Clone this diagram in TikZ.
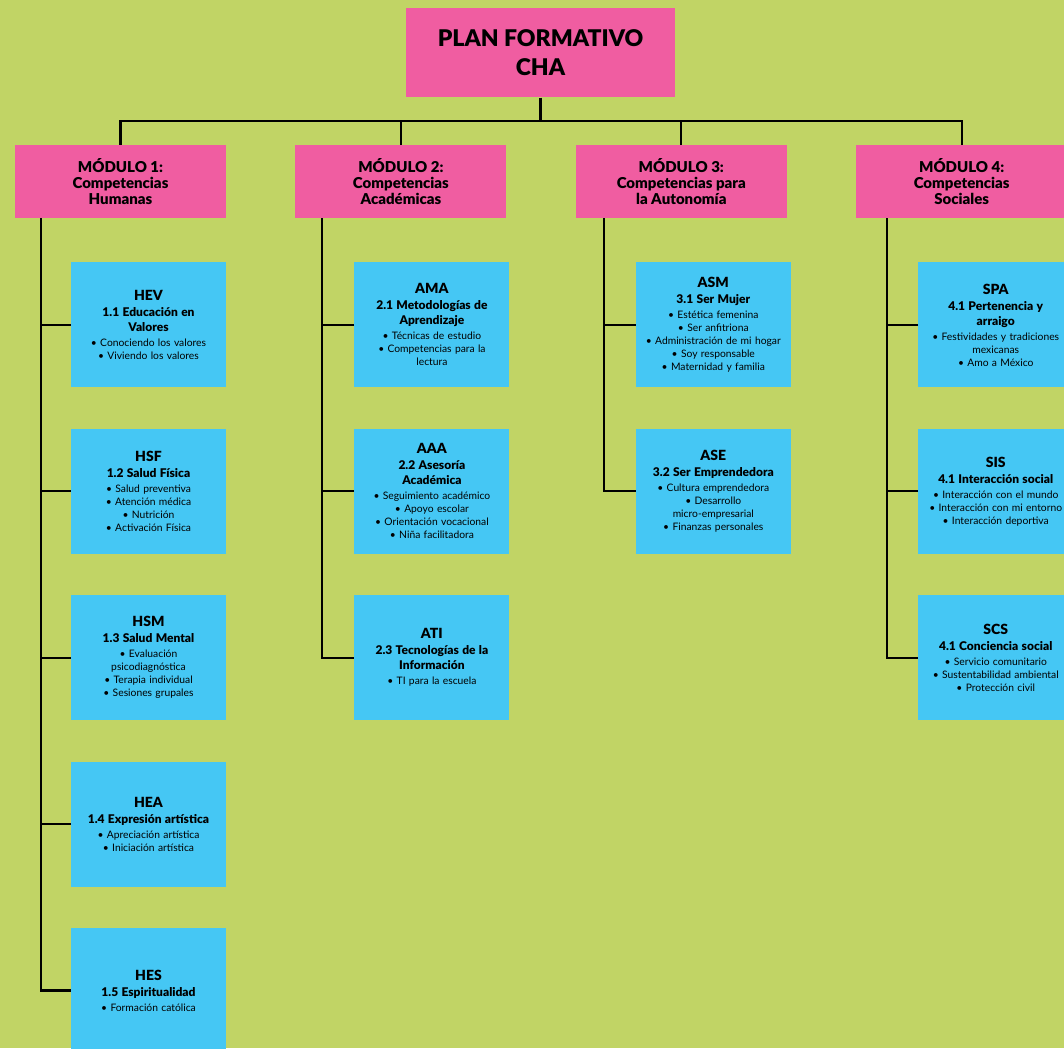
\documentclass[tikz,border=0pt]{standalone}
\usepackage{fontspec}
\setmainfont{Lato}[BoldFont={Lato Black}]
\usetikzlibrary{positioning,calc}

\definecolor{planGreen}{RGB}{193,212,101}
\definecolor{planPink}{RGB}{240,93,161}
\definecolor{planBlue}{RGB}{69,199,244}

\newcommand{\PlanCode}[1]{{\fontsize{14}{16}\selectfont\bfseries #1\par}\vspace{1pt}}
\newcommand{\PlanTitle}[1]{{\fontsize{12}{15}\selectfont\bfseries #1\par}\vspace{2pt}}
\newcommand{\PlanItems}[1]{{\fontsize{10.3}{13}\selectfont #1\par}}

\tikzset{
	titlebox/.style={fill=planPink, minimum width=269pt, minimum height=89pt, inner sep=0pt, align=center, font=\fontsize{23}{29}\selectfont\bfseries},
	modbox/.style={fill=planPink, minimum width=211pt, minimum height=73pt, inner sep=0pt, align=center, font=\fontsize{15}{16}\selectfont\bfseries},
	subbox/.style={fill=planBlue, minimum width=155pt, minimum height=125pt, inner sep=0pt, text width=152pt, align=center},
	link/.style={line width=2.2pt, black},
}

\begin{document}
\begin{tikzpicture}[x=1pt, y=-1pt]
		\fill[planGreen] (0,0) rectangle (1064,1048);
		\useasboundingbox (0,0) rectangle (1064,1048);

		\node[titlebox] (plan) at (540.5,53) {PLAN FORMATIVO\\CHA};
		\node[modbox] (m1) at (120.5,181.5) {MÓDULO 1:\\Competencias\\Humanas};
		\node[modbox, right=69pt of m1] (m2) {MÓDULO 2:\\Competencias\\Académicas};
		\node[modbox, right=69pt of m2] (m3) {MÓDULO 3:\\Competencias para\\la Autonomía};
		\node[modbox, right=69pt of m3] (m4) {MÓDULO 4:\\Competencias\\Sociales};

		% modulo 1
		\node[subbox, below right=44pt and 56pt of m1.south west] (hev) {\PlanCode{HEV}\PlanTitle{1.1 Educación en\\Valores}\PlanItems{• Conociendo los valores\\• Viviendo los valores}};
		\node[subbox, below=41pt of hev] (hsf) {\PlanCode{HSF}\PlanTitle{1.2 Salud Física}\PlanItems{• Salud preventiva\\• Atención médica\\• Nutrición\\• Activación Física}};
		\node[subbox, below=41pt of hsf] (hsm) {\PlanCode{HSM}\PlanTitle{1.3 Salud Mental}\PlanItems{• Evaluación\\psicodiagnóstica\\• Terapia individual\\• Sesiones grupales}};
		\node[subbox, below=41pt of hsm] (hea) {\PlanCode{HEA}\PlanTitle{1.4 Expresión artística}\PlanItems{• Apreciación artística\\• Iniciación artística}};
		\node[subbox, below=41pt of hea] (hes) {\PlanCode{HES}\PlanTitle{1.5 Espiritualidad}\PlanItems{• Formación católica}};

		% modulo 2
		\node[subbox, below right=44pt and 59pt of m2.south west] (ama) {\PlanCode{AMA}\PlanTitle{2.1 Metodologías de\\Aprendizaje}\PlanItems{• Técnicas de estudio\\• Competencias para la\\lectura}};
		\node[subbox, below=41pt of ama] (aaa) {\PlanCode{AAA}\PlanTitle{2.2 Asesoría\\Académica}\PlanItems{• Seguimiento académico\\• Apoyo escolar\\• Orientación vocacional\\• Niña facilitadora}};
		\node[subbox, below=41pt of aaa] (ati) {\PlanCode{ATI}\PlanTitle{2.3 Tecnologías de la\\Información}\PlanItems{• TI para la escuela}};

		% modulo 3
		\node[subbox, below right=44pt and 60pt of m3.south west] (asm) {\PlanCode{ASM}\PlanTitle{3.1 Ser Mujer}\PlanItems{• Estética femenina\\• Ser anfitriona\\• Administración de mi hogar\\• Soy responsable\\• Maternidad y familia}};
		\node[subbox, below=41pt of asm] (ase) {\PlanCode{ASE}\PlanTitle{3.2 Ser Emprendedora}\PlanItems{• Cultura emprendedora\\• Desarrollo\\micro-empresarial\\• Finanzas personales}};

		% modulo 4
		\node[subbox, below right=44pt and 62pt of m4.south west] (spa) {\PlanCode{SPA}\PlanTitle{4.1 Pertenencia y\\arraigo}\PlanItems{• Festividades y tradiciones\\mexicanas\\• Amo a México}};
		\node[subbox, below=41pt of spa] (sis) {\PlanCode{SIS}\PlanTitle{4.1 Interacción social}\PlanItems{• Interacción con el mundo\\• Interacción con mi entorno\\• Interacción deportiva}};
		\node[subbox, below=41pt of sis] (scs) {\PlanCode{SCS}\PlanTitle{4.1 Conciencia social}\PlanItems{• Servicio comunitario\\• Sustentabilidad ambiental\\• Protección civil}};

		% conectores
		\draw[link] (plan.south) -- ++(0,23.5) coordinate (bus);
		\foreach \m in {m1,m2,m3,m4}
			\draw[link] (\m.north) |- (bus);

		\coordinate (s1) at ($(m1.south west)+(26pt,0)$);
		\coordinate (s2) at ($(m2.south west)+(27pt,0)$);
		\coordinate (s3) at ($(m3.south west)+(28pt,0)$);
		\coordinate (s4) at ($(m4.south west)+(31pt,0)$);
		\draw[link] (s1) |- (hes.west);
		\draw[link] (s2) |- (ati.west);
		\draw[link] (s3) |- (ase.west);
		\draw[link] (s4) |- (scs.west);
		\foreach \b in {hev,hsf,hsm,hea}
			\draw[link] (\b.west) -- (\b.west -| s1);
		\foreach \b in {ama,aaa}
			\draw[link] (\b.west) -- (\b.west -| s2);
		\draw[link] (asm.west) -- (asm.west -| s3);
		\foreach \b in {spa,sis}
			\draw[link] (\b.west) -- (\b.west -| s4);
\end{tikzpicture}
\end{document}
